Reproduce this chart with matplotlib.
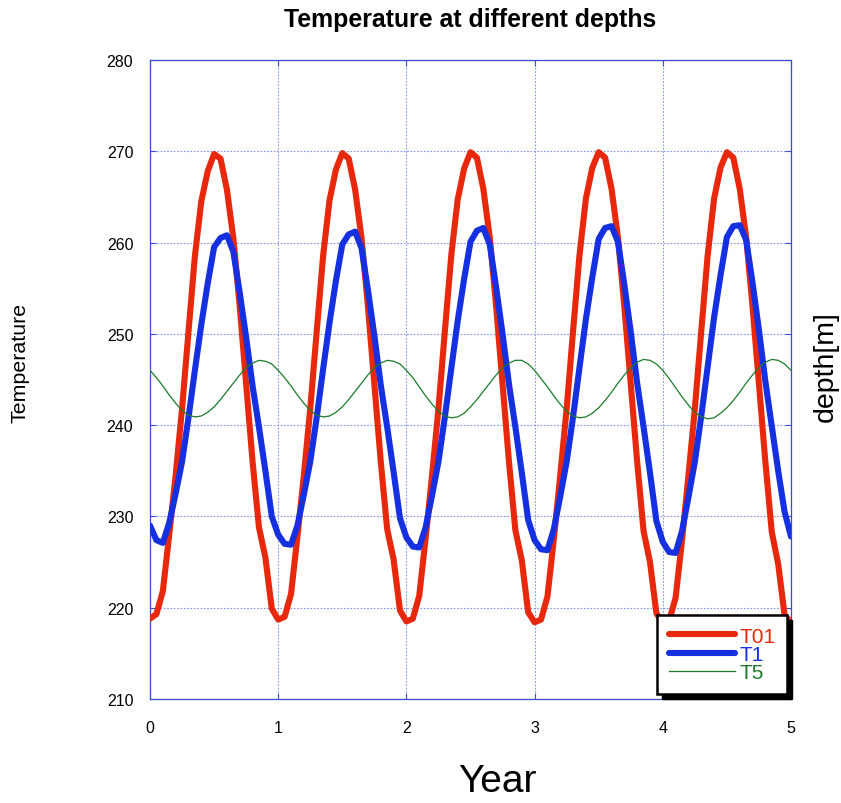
import numpy as np
import matplotlib
matplotlib.use("Agg")
import matplotlib.pyplot as plt
from matplotlib.patches import Rectangle

# sample times (years), 0.05 yr spacing
t = np.arange(101) * 0.05

# T01 (red) values, one row per year, sampled every 0.05 yr, plus final value at t=5
t01_y0 = [218.8, 219.3, 221.8, 228.0, 234.5, 241.8, 250.2, 258.5, 264.5, 267.8, 269.7, 269.2, 265.8, 260.5, 253.0, 244.5, 236.0, 228.8, 225.5, 219.9]
t01_y1 = [218.7, 219.0, 221.5, 227.8, 234.5, 241.8, 250.2, 258.5, 264.6, 268.0, 269.8, 269.2, 265.8, 260.5, 253.0, 244.5, 236.0, 228.6, 225.3, 219.7]
t01_y2 = [218.5, 218.8, 221.3, 227.6, 234.5, 241.8, 250.3, 258.6, 264.7, 268.1, 269.9, 269.3, 265.9, 260.6, 253.0, 244.5, 236.0, 228.5, 225.2, 219.5]
t01_y3 = [218.4, 218.7, 221.2, 227.5, 234.5, 241.8, 250.3, 258.6, 264.8, 268.2, 269.9, 269.3, 265.9, 260.6, 253.0, 244.5, 236.0, 228.4, 225.0, 219.4]
t01_y4 = [218.3, 218.6, 221.1, 227.4, 234.5, 241.8, 250.3, 258.6, 264.8, 268.2, 269.9, 269.3, 265.9, 260.6, 253.0, 244.5, 236.0, 228.3, 224.8, 219.2]
t01_end = [218.4]

# T1 (blue)
t1_y0 = [229.0, 227.4, 227.1, 229.3, 232.5, 236.0, 240.8, 246.0, 251.0, 255.5, 259.5, 260.5, 260.8, 259.0, 254.5, 249.6, 244.3, 239.8, 235.0, 230.0]
t1_y1 = [228.0, 227.0, 226.9, 229.0, 232.4, 236.0, 240.8, 246.1, 251.2, 255.8, 259.8, 260.9, 261.2, 259.4, 254.8, 249.8, 244.4, 239.8, 234.9, 229.8]
t1_y2 = [227.7, 226.7, 226.6, 228.8, 232.3, 236.0, 240.9, 246.2, 251.4, 256.0, 260.1, 261.3, 261.6, 259.8, 255.1, 250.0, 244.5, 239.8, 234.8, 229.6]
t1_y3 = [227.4, 226.4, 226.3, 228.6, 232.2, 236.0, 240.9, 246.3, 251.6, 256.2, 260.4, 261.6, 261.8, 260.1, 255.4, 250.2, 244.6, 239.8, 234.8, 229.5]
t1_y4 = [227.2, 226.1, 226.0, 228.4, 232.1, 236.0, 241.0, 246.4, 251.8, 256.4, 260.6, 261.8, 261.9, 260.3, 255.6, 250.4, 244.8, 239.9, 235.0, 230.5]
t1_end = [227.8]

# T5 (green)
t5_y0 = [246.0, 245.2, 244.3, 243.3, 242.4, 241.6, 241.1, 240.9, 241.0, 241.4, 242.0, 242.8, 243.7, 244.6, 245.5, 246.3, 246.8, 247.1, 247.0, 246.7]
t5_y1 = [246.0, 245.2, 244.3, 243.3, 242.4, 241.6, 241.1, 240.9, 241.0, 241.4, 242.0, 242.8, 243.7, 244.6, 245.5, 246.3, 246.8, 247.1, 247.0, 246.7]
t5_y2 = [246.0, 245.2, 244.2, 243.2, 242.3, 241.5, 241.0, 240.8, 240.9, 241.3, 242.0, 242.8, 243.7, 244.6, 245.5, 246.3, 246.8, 247.1, 247.1, 246.7]
t5_y3 = [246.0, 245.1, 244.2, 243.2, 242.3, 241.5, 241.0, 240.8, 240.9, 241.3, 241.9, 242.7, 243.6, 244.6, 245.5, 246.3, 246.9, 247.2, 247.1, 246.7]
t5_y4 = [246.0, 245.1, 244.1, 243.1, 242.2, 241.4, 240.9, 240.7, 240.8, 241.3, 241.9, 242.7, 243.6, 244.6, 245.5, 246.3, 246.9, 247.2, 247.1, 246.7]
t5_end = [246.0]

T01 = np.array(t01_y0 + t01_y1 + t01_y2 + t01_y3 + t01_y4 + t01_end)
T1 = np.array(t1_y0 + t1_y1 + t1_y2 + t1_y3 + t1_y4 + t1_end)
T5 = np.array(t5_y0 + t5_y1 + t5_y2 + t5_y3 + t5_y4 + t5_end)

x_ticks = [0, 1, 2, 3, 4, 5]
y_ticks = [210, 220, 230, 240, 250, 260, 270, 280]

plt.rcParams['font.family'] = ['Liberation Sans', 'DejaVu Sans']

fig = plt.figure(figsize=(8.41, 8.04), dpi=100)
ax = fig.add_axes([150/841, 1-700/804, 641/841, 639/804])

red = '#e8280c'
blue = '#1430e0'
green = '#1c7a2c'
gridc = '#8595e8'
framec = '#3a4ccc'

ax.plot(t, T01, color=red, lw=4.4, label='T01', solid_capstyle='round',
        solid_joinstyle='round', zorder=3)
ax.plot(t, T1, color=blue, lw=4.4, label='T1', solid_capstyle='round',
        solid_joinstyle='round', zorder=4)
ax.plot(t, T5, color=green, lw=0.9, label='T5', zorder=4.5)

ax.set_xlim(0, 5)
ax.set_ylim(210, 280)
ax.set_xticks(x_ticks)
ax.set_yticks(y_ticks)
ax.set_xticklabels([str(v) for v in x_ticks])
ax.set_yticklabels([str(v) for v in y_ticks])
ax.tick_params(direction='in', length=4, width=0.8, color=framec, labelsize=11.5,
               labelcolor='black', top=True, right=True)
ax.tick_params(axis='x', pad=15)
ax.tick_params(axis='y', pad=12)
ax.grid(True, color=gridc, linestyle=(0, (1.5, 1.5)), linewidth=0.8)
for sp in ax.spines.values():
    sp.set_color(framec)
    sp.set_linestyle((0, (2, 1)))
    sp.set_linewidth(0.9)

leg = ax.legend(loc='lower right', bbox_to_anchor=(0.994, 0.008), borderaxespad=0,
                fontsize=15, handlelength=3.2, handletextpad=0.2, labelspacing=-0.03,
                borderpad=0.55, frameon=True, fancybox=False, shadow=False,
                labelcolor='linecolor')
leg.get_frame().set_edgecolor('black')
leg.get_frame().set_linewidth(1.8)
leg.get_frame().set_alpha(1)
leg.set_zorder(6)

fig.canvas.draw()
bb = leg.get_window_extent()
W, H = fig.bbox.width, fig.bbox.height
off = 5
shadow = Rectangle(((bb.x0 + off) / W, (bb.y0 - off) / H), bb.width / W, bb.height / H,
                   transform=fig.transFigure, facecolor='black', edgecolor='black',
                   zorder=5.5, clip_on=False)
ax.add_patch(shadow)

fig.text(470/841, 1-20/804, 'Temperature at different depths', ha='center', va='center',
         fontsize=17.9, fontweight='bold')
fig.text(497/841, 1-782/804, 'Year', ha='center', va='center', fontsize=28)
fig.text(20/841, 1-363/804, 'Temperature', ha='center', va='center', rotation=90, fontsize=15.4)
fig.text(826/841, 1-367/804, 'depth[m]', ha='center', va='center', rotation=90, fontsize=20.5)

fig.savefig('out.png', dpi=100)
